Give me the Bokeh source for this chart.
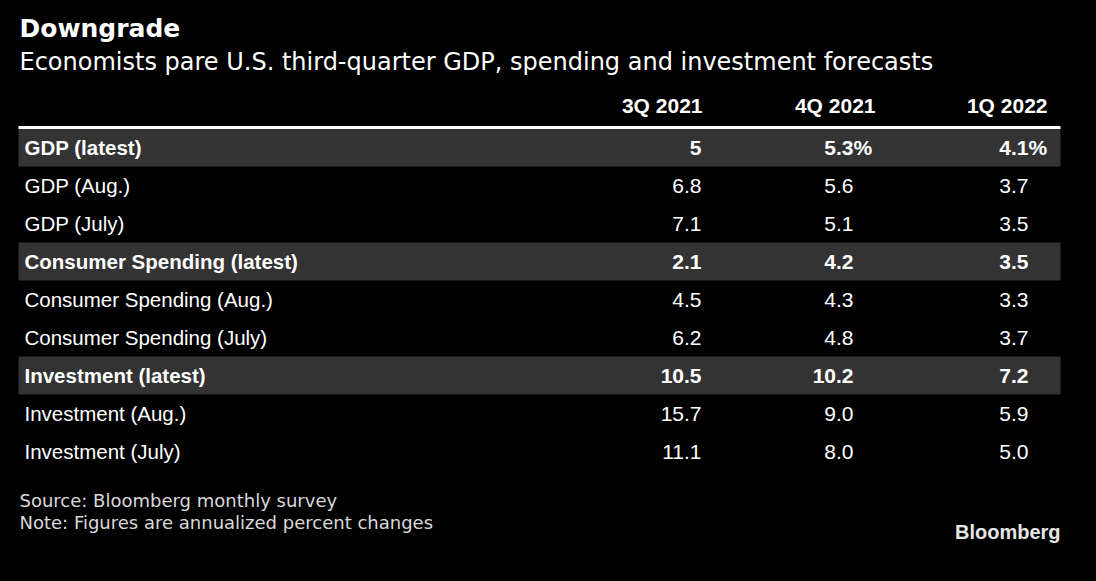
from bokeh.plotting import figure
from bokeh.models import Range1d
from bokeh.core.properties import value
from bokeh.embed import file_html
from bokeh.resources import INLINE

title = "Downgrade"
subtitle = "Economists pare U.S. third-quarter GDP, spending and investment forecasts"
columns = ["3Q 2021", "4Q 2021", "1Q 2022"]
row_labels = ["GDP (latest)", "GDP (Aug.)", "GDP (July)",
              "Consumer Spending (latest)", "Consumer Spending (Aug.)", "Consumer Spending (July)",
              "Investment (latest)", "Investment (Aug.)", "Investment (July)"]
q3_2021 = ["5", "6.8", "7.1", "2.1", "4.5", "6.2", "10.5", "15.7", "11.1"]
q4_2021 = ["5.3", "5.6", "5.1", "4.2", "4.3", "4.8", "10.2", "9.0", "8.0"]
q1_2022 = ["4.1", "3.7", "3.5", "3.5", "3.3", "3.7", "7.2", "5.9", "5.0"]
suffix_q3 = ["", "", "", "", "", "", "", "", ""]
suffix_q4 = ["%", "", "", "", "", "", "", "", ""]
suffix_q1 = ["%", "", "", "", "", "", "", "", ""]
highlight = [True, False, False, True, False, False, True, False, False]
notes = ["Source: Bloomberg monthly survey", "Note: Figures are annualized percent changes"]
brand = "Bloomberg"

W, H = 1080, 565
p = figure(width=W, height=H, x_range=Range1d(0, W), y_range=Range1d(H, 0),
           output_backend="svg", toolbar_location=None, min_border=0,
           background_fill_color="#000000", border_fill_color="#000000",
           outline_line_color=None)
p.xaxis.visible = False
p.yaxis.visible = False
p.grid.visible = False

LEFT, RIGHT = 18, 1060
ROW0, ROWH = 147, 38
col_right_head = [702, 875, 1047]
col_right_val = [701, 853, 1028]

ys = [ROW0 + ROWH * i for i in range(len(row_labels))]

# bands
bt = [y - ROWH / 2 for y, h in zip(ys, highlight) if h]
bb = [y + ROWH / 2 for y, h in zip(ys, highlight) if h]
p.quad(left=LEFT, right=RIGHT, top=bt, bottom=bb, fill_color="#333333", line_color=None)

# header line
p.segment(x0=[LEFT], x1=[RIGHT], y0=[ROW0 - ROWH / 2 - 1], y1=[ROW0 - ROWH / 2 - 1],
          line_color="#ffffff", line_width=3)

# title / subtitle
p.text(x=[19], y=[28], text=[title], text_font=value("DejaVu Sans"), text_font_style="bold",
       text_font_size="25px", text_color="#ffffff", text_baseline="middle")
p.text(x=[19], y=[61], text=[subtitle], text_font=value("DejaVu Sans"),
       text_font_size="24px", text_color="#ffffff", text_baseline="middle")

# column headers
p.text(x=col_right_head, y=[105] * 3, text=columns, text_font=value("Liberation Sans"),
       text_font_style="bold", text_font_size="21px", text_color="#ffffff",
       text_align="right", text_baseline="middle")

# rows
for i, lab in enumerate(row_labels):
    style = "bold" if highlight[i] else "normal"
    p.text(x=[24], y=[ys[i]], text=[lab], text_font=value("Liberation Sans"),
           text_font_style=style, text_font_size="20.5px", text_color="#ffffff",
           text_baseline="middle")
    for xr, vals, suf in zip(col_right_val, [q3_2021, q4_2021, q1_2022],
                             [suffix_q3, suffix_q4, suffix_q1]):
        p.text(x=[xr], y=[ys[i]], text=[vals[i]], text_font=value("Liberation Sans"),
               text_font_style=style, text_font_size="21px", text_color="#ffffff",
               text_align="right", text_baseline="middle")
        if suf[i]:
            p.text(x=[xr], y=[ys[i]], text=[suf[i]], text_font=value("Liberation Sans"),
                   text_font_style=style, text_font_size="21px", text_color="#ffffff",
                   text_align="left", text_baseline="middle")

# notes
p.text(x=[19, 19], y=[500, 522], text=notes, text_font=value("DejaVu Sans"),
       text_font_size="18px", text_color="#d9d9d9", text_baseline="middle")
p.text(x=[1060], y=[531], text=[brand], text_font=value("Liberation Sans"),
       text_font_style="bold", text_font_size="20px", text_color="#e6e6e6",
       text_align="right", text_baseline="middle")

html = file_html(p, INLINE)
html = html.replace("<head>", "<head><style>html,body{background:#000000;}</style>", 1)
open("out.html", "w").write(html)
